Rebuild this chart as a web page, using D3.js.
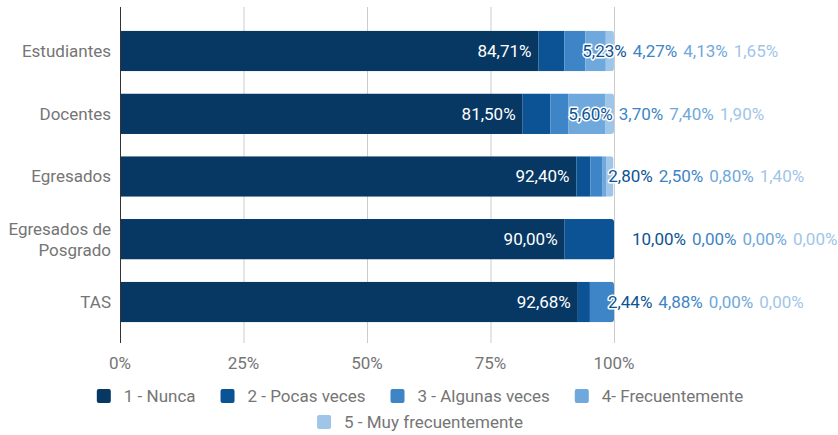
<!DOCTYPE html>
<html>
<head>
<meta charset="utf-8">
<script src="https://cdn.jsdelivr.net/npm/d3@7"></script>
<style>
  body { margin: 0; background: #fff; }
  text { font-family: Roboto, sans-serif; }
</style>
</head>
<body>
<svg id="chart" width="838" height="435"></svg>
<script>
// grupos consultados
const categories = ['Estudiantes', 'Docentes', 'Egresados', 'Egresados de Posgrado', 'TAS']
const categoryLines = [['Estudiantes'], ['Docentes'], ['Egresados'], ['Egresados de', 'Posgrado'], ['TAS']]

// respuestas, en porcentaje
const seriesNames = ['1 - Nunca', '2 - Pocas veces', '3 - Algunas veces', '4- Frecuentemente', '5 - Muy frecuentemente']
const nunca = [84.71, 81.50, 92.40, 90.00, 92.68]
const pocasVeces = [5.23, 5.60, 2.80, 10.00, 2.44]
const algunasVeces = [4.27, 3.70, 2.50, 0.00, 4.88]
const frecuentemente = [4.13, 7.40, 0.80, 0.00, 0.00]
const muyFrecuentemente = [1.65, 1.90, 1.40, 0.00, 0.00]

const xTicks = [0, 25, 50, 75, 100]
const colors = ['#073763', '#0b5394', '#3d85c6', '#6fa8dc', '#9fc5e8']

const seriesValues = [nunca, pocasVeces, algunasVeces, frecuentemente, muyFrecuentemente]
const fmt = v => v.toFixed(2).replace('.', ',') + '%'
const fontSize = '17px'

const svg = d3.select('#chart')
const width = 838

const xScale = d3.scaleLinear().domain([0, 100]).range([120, 614])
const yScale = d3.scaleBand()
  .domain(categories)
  .range([19.6, 333.4])
  .paddingInner(0.355)
  .paddingOuter(0.1775)

// grid
const grid = svg.append('g')
grid.selectAll('line')
  .data(xTicks.filter(t => t > 0))
  .join('line')
  .attr('x1', d => xScale(d) + 0.5)
  .attr('x2', d => xScale(d) + 0.5)
  .attr('y1', 7)
  .attr('y2', 343)
  .style('stroke', '#cccccc')

// bars
const rows = categories.map((c, i) => {
  let acc = 0
  const segs = seriesValues.map((s, k) => {
    const seg = { k, v: s[i], x0: acc, x1: acc + s[i] }
    acc += s[i]
    return seg
  })
  return { c, i, segs, total: acc }
})

const defs = svg.append('defs')
rows.forEach(r => {
  defs.append('clipPath').attr('id', 'clip' + r.i)
    .append('rect')
    .attr('x', xScale(0) - 6)
    .attr('y', yScale(r.c))
    .attr('width', xScale(Math.min(r.total, 100)) - xScale(0) + 6)
    .attr('height', yScale.bandwidth())
    .attr('rx', 3)
})

const barG = svg.append('g')
rows.forEach(r => {
  barG.append('g')
    .attr('clip-path', `url(#clip${r.i})`)
    .selectAll('rect')
    .data(r.segs.filter(s => s.v > 0))
    .join('rect')
    .attr('x', s => xScale(s.x0))
    .attr('y', yScale(r.c))
    .attr('width', s => xScale(s.x1) - xScale(s.x0))
    .attr('height', yScale.bandwidth())
    .style('fill', s => colors[s.k])
})

// y axis line
svg.append('line')
  .attr('x1', xScale(0) + 0.5)
  .attr('x2', xScale(0) + 0.5)
  .attr('y1', 7)
  .attr('y2', 343)
  .style('stroke', '#333333')

// category labels
const catG = svg.append('g')
categoryLines.forEach((lines, i) => {
  const cy = yScale(categories[i]) + yScale.bandwidth() / 2
  const t = catG.append('text')
    .attr('text-anchor', 'end')
    .style('font-size', fontSize)
    .style('fill', '#757575')
  lines.forEach((ln, j) => {
    t.append('tspan')
      .attr('x', 111)
      .attr('y', cy + (j - (lines.length - 1) / 2) * 21)
      .attr('dy', '0.35em')
      .text(ln)
  })
})

// x tick labels
svg.append('g').selectAll('text')
  .data(xTicks)
  .join('text')
  .attr('x', d => xScale(d))
  .attr('y', 363)
  .attr('dy', '0.35em')
  .attr('text-anchor', 'middle')
  .style('font-size', fontSize)
  .style('fill', '#757575')
  .text(d => d + '%')

// value labels
const labG = svg.append('g')
rows.forEach(r => {
  const cy = yScale(r.c) + yScale.bandwidth() / 2
  const first = r.segs[0]
  labG.append('text')
    .attr('x', xScale(first.x1) - 7)
    .attr('y', cy)
    .attr('dy', '0.35em')
    .attr('text-anchor', 'end')
    .style('font-size', fontSize)
    .style('fill', '#ffffff')
    .text(fmt(first.v))

  let prevEnd = -Infinity
  r.segs.slice(1).forEach(s => {
    const x = Math.max(xScale(s.x1) + 18, prevEnd + 6)
    const t = labG.append('text')
      .attr('x', x)
      .attr('y', cy)
      .attr('dy', '0.35em')
      .style('font-size', fontSize)
      .style('fill', colors[s.k])
      .style('stroke', '#ffffff')
      .style('stroke-width', 3)
      .style('stroke-linejoin', 'round')
      .style('paint-order', 'stroke')
      .text(fmt(s.v))
    prevEnd = x + t.node().getComputedTextLength()
  })
})

// legend
const legendRows = [[0, 1, 2, 3], [4]]
const legendY = [396, 422]
const legG = svg.append('g')
legendRows.forEach((idx, ri) => {
  const items = idx.map(k => {
    const g = legG.append('g')
    g.append('rect')
      .attr('width', 14)
      .attr('height', 14)
      .attr('rx', 2)
      .attr('y', legendY[ri] - 7)
      .style('fill', colors[k])
    const t = g.append('text')
      .attr('x', 27)
      .attr('y', legendY[ri])
      .attr('dy', '0.35em')
      .style('font-size', fontSize)
      .style('fill', '#757575')
      .text(seriesNames[k])
    return { g, w: 27 + t.node().getComputedTextLength() }
  })
  const gap = 25
  const total = d3.sum(items, d => d.w) + gap * (items.length - 1)
  let x = width / 2 + 1 - total / 2
  items.forEach(it => {
    it.g.attr('transform', `translate(${x},0)`)
    x += it.w + gap
  })
})
</script>
</body>
</html>
